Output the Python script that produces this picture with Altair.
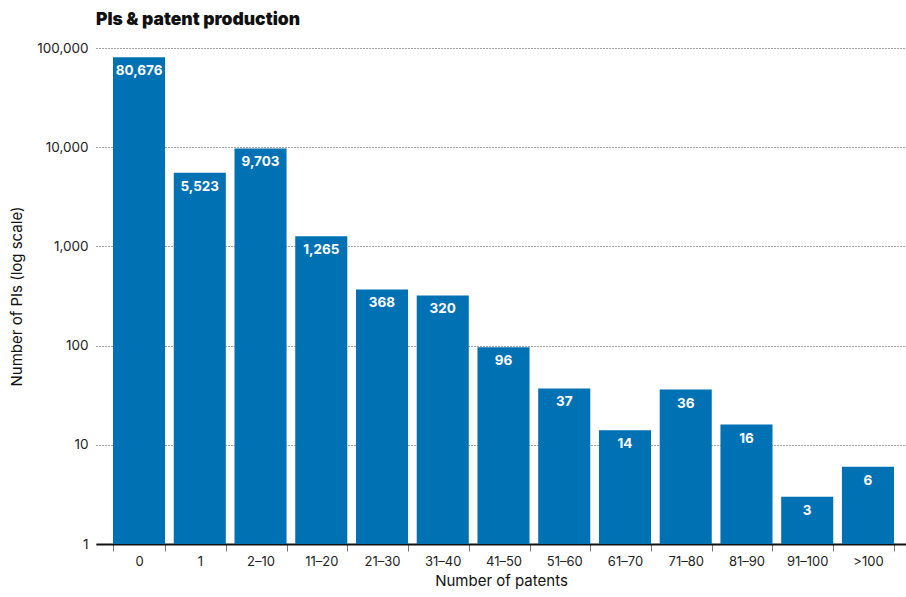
import altair as alt
import pandas as pd

categories = ["0", "1", "2–10", "11–20", "21–30", "31–40", "41–50", "51–60",
              "61–70", "71–80", "81–90", "91–100", ">100"]
values = [80676, 5523, 9703, 1265, 368, 320, 96, 37, 14, 36, 16, 3, 6]
labels = [f"{v:,}" for v in values]

df = pd.DataFrame({"cat": categories, "value": values, "label": labels})

FONT = "Inter"
BLUE = "#0071B2"

x = alt.X("cat:N", sort=categories, title="Number of patents",
          scale=alt.Scale(paddingInner=0.143, paddingOuter=0.239, align=0.586),
          axis=alt.Axis(labelAngle=0, labelFontSize=13, labelColor="#222",
                        labelPadding=4, titleFontSize=15, titleFontWeight="normal",
                        titleColor="#111", titlePadding=5,
                        domainColor="#111", domainWidth=2,
                        tickColor="#777", tickSize=7, tickWidth=1, tickBand="extent",
                        grid=False))
y = alt.Y("value:Q", title="Number of PIs (log scale)",
          scale=alt.Scale(type="log", domain=[1, 100000]),
          axis=alt.Axis(values=[1, 10, 100, 1000, 10000, 100000], format=",",
                        labelFontSize=13.5, labelColor="#222", labelPadding=8,
                        titleFontSize=15, titleFontWeight="normal", titleColor="#111",
                        titlePadding=12, domain=False, ticks=False,
                        grid=True, gridColor="#444", gridDash=[1, 2], gridWidth=1))

base = alt.Chart(df).encode(x=x, y=y)
bars = base.mark_bar(color=BLUE).encode(y2=alt.datum(1))
text = base.mark_text(color="white", fontWeight="bold", fontSize=13.5,
                      font=FONT, baseline="top", dy=7).encode(text="label:N")

chart = (bars + text).properties(
    width=810, height=496,
    title=alt.TitleParams("PIs & patent production", anchor="start", font=FONT,
                          fontSize=17.5, fontWeight=900, color="#111",
                          offset=13, frame="group"),
    padding={"left": 96, "top": 48, "right": 0, "bottom": 53},
    autosize=alt.AutoSizeParams(type="none"),
).configure(font=FONT).configure_view(stroke=None).configure_axis(
    labelFont=FONT, titleFont=FONT)

chart.save("out.html", embed_options={"renderer": "svg", "actions": False})
